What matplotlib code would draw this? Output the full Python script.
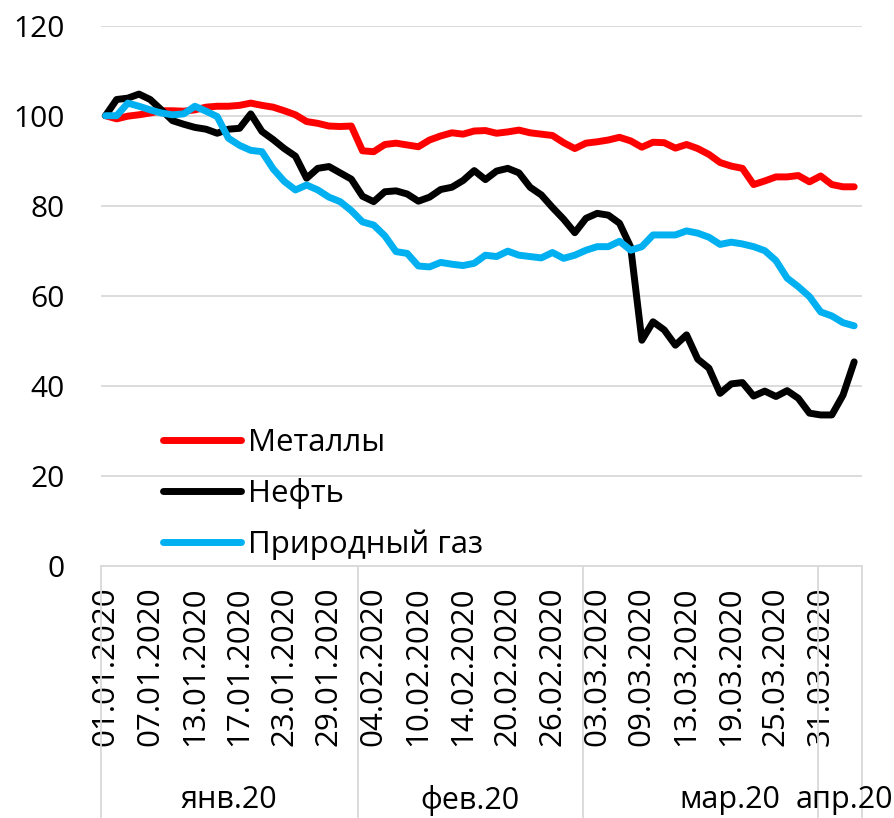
import matplotlib
matplotlib.use("Agg")
import matplotlib.pyplot as plt
import matplotlib.transforms as mtransforms

plt.rcParams['font.family'] = ['Open Sans', 'DejaVu Sans']

# ---------------- data ----------------
metals = [100, 99.3, 99.9, 100.2, 100.6, 101.1, 101.1, 101.0, 101.3, 101.9, 102.1, 102.1,
          102.3, 102.8, 102.3, 101.9, 101.1, 100.2,
          98.7, 98.3, 97.7, 97.6, 97.7, 92.2, 92.0, 93.6, 93.9, 93.5, 93.1, 94.6, 95.5,
          96.2, 95.9, 96.6, 96.7,
          96.1, 96.4, 96.8, 96.2, 95.9, 95.6, 94.0, 92.7, 93.9, 94.2, 94.6, 95.2, 94.4,
          93.0, 94.1, 94.0, 92.8,
          93.6, 92.7, 91.4, 89.6, 88.8, 88.3, 84.7, 85.5, 86.4, 86.4, 86.7, 85.3, 86.6,
          84.7, 84.2, 84.2]

oil = [100, 103.6, 103.9, 104.8, 103.6, 101.3, 98.9, 98.1, 97.4, 97.0, 96.1, 97.0,
       97.2, 100.4, 96.5, 94.7, 92.7, 91.0,
       86.1, 88.3, 88.7, 87.3, 85.9, 82.1, 80.9, 83.1, 83.3, 82.6, 81.0, 81.9, 83.6,
       84.1, 85.6, 87.8, 85.8,
       87.7, 88.3, 87.3, 84.1, 82.4, 79.6, 77.0, 74.0, 77.2, 78.3, 77.9, 76.1, 70.8,
       50.1, 54.2, 52.4, 49.0,
       51.3, 45.9, 43.9, 38.3, 40.4, 40.7, 37.7, 38.8, 37.6, 38.9, 37.2, 33.9, 33.5,
       33.5, 37.9, 45.3]

gas = [100, 100, 102.8, 102.1, 101.3, 100.6, 100.2, 100.4, 102.1, 101.0, 99.8, 95.0,
       93.4, 92.3, 92.0, 88.2, 85.4, 83.5,
       84.6, 83.5, 81.9, 80.9, 78.9, 76.4, 75.7, 73.3, 69.8, 69.4, 66.6, 66.4, 67.4,
       67.0, 66.7, 67.2, 69.0,
       68.7, 69.9, 69.0, 68.7, 68.4, 69.6, 68.3, 69.0, 70.1, 70.9, 70.9, 72.1, 70.1,
       70.9, 73.5, 73.5, 73.5,
       74.4, 73.9, 73.0, 71.4, 71.9, 71.5, 70.9, 70.0, 67.8, 63.9, 62.0, 59.8, 56.4,
       55.5, 54.0, 53.3]

series_names = ['Металлы', 'Нефть', 'Природный газ']
tick_labels = ['01.01.2020', '07.01.2020', '13.01.2020', '17.01.2020', '23.01.2020',
               '29.01.2020', '04.02.2020', '10.02.2020', '14.02.2020', '20.02.2020',
               '26.02.2020', '03.03.2020', '09.03.2020', '13.03.2020', '19.03.2020',
               '25.03.2020', '31.03.2020']
month_labels = ['янв.20', 'фев.20', 'мар.20', 'апр.20']

# ---------------- layout ----------------
W, H, DPI = 894, 818, 100
fig = plt.figure(figsize=(W / DPI, H / DPI), dpi=DPI)
ax = fig.add_axes([101 / W, 1 - 565.7 / H, (862 - 101) / W, (565.7 - 25.7) / H])

colors = ['#FF0000', '#000000', '#00B0F0']
lw = 5.0
x = list(range(len(metals)))
for vals, name, c in zip([metals, oil, gas], series_names, colors):
    ax.plot(x, vals, color=c, lw=lw, label=name, solid_capstyle='round',
            solid_joinstyle='round', zorder=3)

ax.set_ylim(0, 120)
ax.set_xlim(-0.4, 67.7)
ax.set_yticks(range(0, 121, 20))
ax.yaxis.grid(True, color='#D9D9D9', lw=1.3, zorder=0)
ax.set_axisbelow(True)
for s in ['top', 'right', 'left']:
    ax.spines[s].set_visible(False)
ax.spines['bottom'].set_color('#D9D9D9')
ax.spines['bottom'].set_linewidth(1.3)

FS = 22.5
ax.tick_params(axis='y', length=0, pad=26, labelsize=21.5, labelcolor='#000000')
ax.set_xticks(range(0, len(metals), 4))
ax.set_xticklabels(tick_labels, rotation=90, fontsize=FS, va='top', ha='center')
ax.tick_params(axis='x', length=0, pad=15)

# month group separators and labels
trans = mtransforms.blended_transform_factory(ax.transData, ax.transAxes)
sep_pos = [-0.4, 22.6, 42.7, 63.8, 67.7]
for sp in sep_pos:
    ax.plot([sp, sp], [0, -0.47], transform=trans, color='#D9D9D9', lw=1.3,
            clip_on=False, zorder=1)
month_pos = [11.0, 32.6, 55.9, 66.1]
for mp, ml in zip(month_pos, month_labels):
    ax.text(mp, -0.434, ml, transform=trans, ha='center', va='center', fontsize=22)

leg = ax.legend(loc='center left', bbox_to_anchor=((163 - 101) / 761, (565.7 - 494) / 540),
                frameon=False, fontsize=FS, handlelength=2.5, handletextpad=0.22,
                labelspacing=0.66, borderpad=0, borderaxespad=0)

fig.savefig('out.png', dpi=DPI)
